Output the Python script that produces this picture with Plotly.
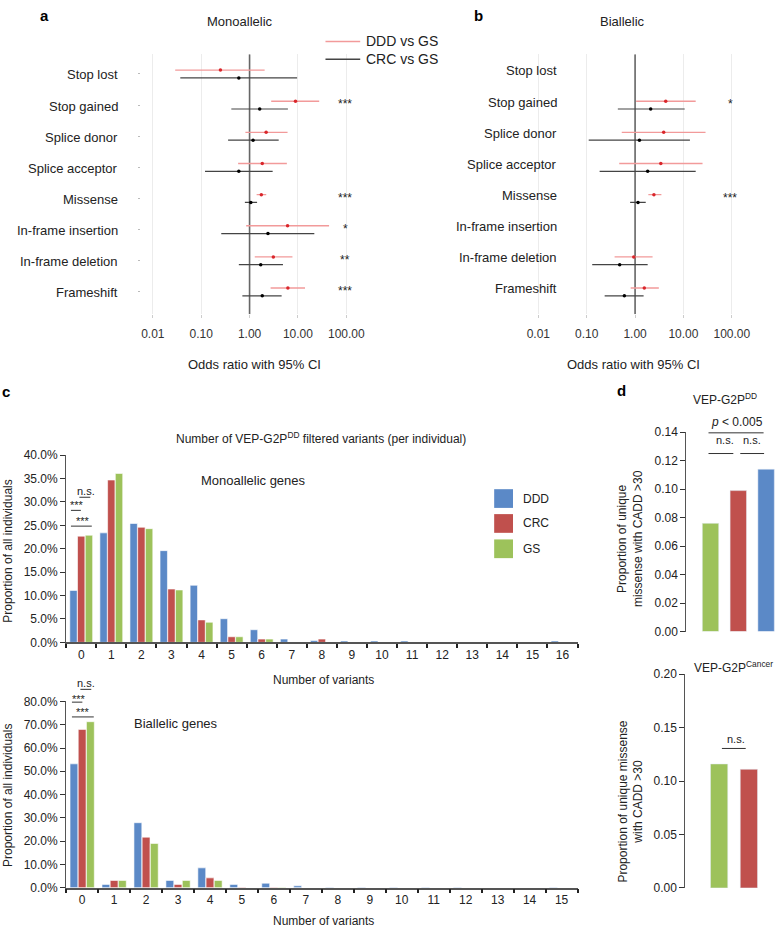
import plotly.graph_objects as go

# ---------------- DATA ----------------
categories = ["Stop lost", "Stop gained", "Splice donor", "Splice acceptor",
              "Missense", "In-frame insertion", "In-frame deletion", "Frameshift"]

# Panel a: Monoallelic odds ratios (95% CI)
mono_ddd_or = [0.25, 8.9, 2.2, 1.83, 1.75, 6.1, 3.1, 6.2]
mono_ddd_lo = [0.029, 2.8, 0.82, 0.58, 1.40, 0.85, 1.28, 2.72]
mono_ddd_hi = [2.05, 27.5, 6.1, 5.9, 2.21, 44.0, 7.7, 14.0]
mono_crc_or = [0.60, 1.62, 1.18, 0.60, 1.06, 2.4, 1.7, 1.83]
mono_crc_lo = [0.037, 0.42, 0.36, 0.12, 0.80, 0.26, 0.60, 0.71]
mono_crc_hi = [9.6, 6.2, 4.0, 3.0, 1.43, 21.8, 4.9, 4.6]
mono_sig = ["", "***", "", "", "***", "*", "**", "***"]

# Panel b: Biallelic odds ratios (95% CI)
bi_ddd_or = [None, 4.3, 3.9, 3.4, 2.45, None, 0.94, 1.55]
bi_ddd_lo = [None, 1.05, 0.53, 0.47, 1.88, None, 0.377, 0.81]
bi_ddd_hi = [None, 17.9, 28.6, 24.8, 3.5, None, 2.3, 3.1]
bi_crc_or = [None, 2.1, 1.23, 1.82, 1.15, None, 0.48, 0.60]
bi_crc_lo = [None, 0.44, 0.11, 0.185, 0.79, None, 0.13, 0.235]
bi_crc_hi = [None, 10.6, 13.6, 17.9, 1.66, None, 1.82, 1.5]
bi_sig = ["", "*", "", "", "***", "", "", ""]

or_ticks = [0.01, 0.1, 1, 10, 100]
or_tick_text = ["0.01", "0.10", "1.00", "10.00", "100.00"]
forest_series = ["DDD vs GS", "CRC vs GS"]

# Panel c: proportion of individuals (%) by number of variants
mono_counts = [str(i) for i in range(17)]
mono_ddd = [11.1, 23.4, 25.4, 19.6, 12.2, 5.05, 2.7, 0.7, 0.4, 0.3, 0.3, 0.3, 0, 0, 0, 0, 0.3]
mono_crc = [22.7, 34.7, 24.6, 11.4, 4.8, 1.2, 0.7, 0, 0.7, 0, 0, 0, 0, 0, 0, 0, 0]
mono_gs = [22.9, 36.1, 24.3, 11.2, 4.3, 1.2, 0.7, 0, 0, 0, 0, 0, 0, 0, 0, 0, 0]

bi_counts = [str(i) for i in range(16)]
bi_ddd = [53.2, 1.4, 27.9, 3.1, 8.5, 1.4, 1.9, 0.8, 0.2, 0.2, 0.2, 0.2, 0.2, 0, 0, 0.2]
bi_crc = [68.0, 3.1, 21.7, 1.4, 4.2, 0.2, 0.2, 0, 0, 0, 0, 0, 0, 0, 0, 0]
bi_gs = [71.3, 3.1, 19.0, 3.1, 3.1, 0, 0.2, 0, 0, 0, 0, 0, 0, 0, 0, 0]

# Panel d: proportion of unique missense with CADD > 30
d_top_groups = ["GS", "CRC", "DDD"]
d_top_vals = [0.076, 0.099, 0.114]
d_bot_groups = ["GS", "CRC"]
d_bot_vals = [0.116, 0.111]

# ---------------- STYLE ----------------
W, H = 781, 937
FONT = "Liberation Sans, Arial, Helvetica, sans-serif"
C_BLUE, C_RED, C_GREEN = "#5B89C7", "#C0504D", "#9DC25B"
GROUP_COLORS = {"DDD": C_BLUE, "CRC": C_RED, "GS": C_GREEN}
FOREST_RED_LINE, FOREST_RED_PT = "#F29A9A", "#D9262B"
FOREST_BLK_LINE, FOREST_BLK_PT = "#444444", "#000000"


def fx(p):
    return p / W


def fy(p):
    return 1 - p / H


fig = go.Figure()


def segments(lo, hi, ys):
    xs, yy = [], []
    for l, h, y in zip(lo, hi, ys):
        if l is None:
            continue
        xs += [l, h, None]
        yy += [y, y, None]
    return xs, yy


def points(vals, ys):
    xs, yy = [], []
    for v, y in zip(vals, ys):
        if v is None:
            continue
        xs.append(v)
        yy.append(y)
    return xs, yy


row_pos = list(range(len(categories)))
red_y = [r - 0.125 for r in row_pos]
blk_y = [r + 0.125 for r in row_pos]
Y_TOP, Y_BOT = -0.633, 7.72

for ax, (dor, dlo, dhi, cor, clo, chi) in [
    ("", (mono_ddd_or, mono_ddd_lo, mono_ddd_hi, mono_crc_or, mono_crc_lo, mono_crc_hi)),
    ("2", (bi_ddd_or, bi_ddd_lo, bi_ddd_hi, bi_crc_or, bi_crc_lo, bi_crc_hi)),
]:
    xa, ya = "x" + ax, "y" + ax
    # reference line at OR = 1
    fig.add_trace(go.Scatter(x=[1, 1], y=[Y_TOP, Y_BOT], mode="lines",
                             line=dict(color="#666666", width=1.6),
                             xaxis=xa, yaxis=ya, showlegend=False, hoverinfo="skip"))
    sx, sy = segments(dlo, dhi, red_y)
    fig.add_trace(go.Scatter(x=sx, y=sy, mode="lines", name=forest_series[0],
                             line=dict(color=FOREST_RED_LINE, width=1.4),
                             xaxis=xa, yaxis=ya, showlegend=False))
    sx, sy = segments(clo, chi, blk_y)
    fig.add_trace(go.Scatter(x=sx, y=sy, mode="lines", name=forest_series[1],
                             line=dict(color=FOREST_BLK_LINE, width=1.2),
                             xaxis=xa, yaxis=ya, showlegend=False))
    px_, py_ = points(dor, red_y)
    fig.add_trace(go.Scatter(x=px_, y=py_, mode="markers", name=forest_series[0],
                             marker=dict(color=FOREST_RED_PT, size=3.5),
                             xaxis=xa, yaxis=ya, showlegend=False))
    px_, py_ = points(cor, blk_y)
    fig.add_trace(go.Scatter(x=px_, y=py_, mode="markers", name=forest_series[1],
                             marker=dict(color=FOREST_BLK_PT, size=3.5),
                             xaxis=xa, yaxis=ya, showlegend=False))

# Panel c bars
for name, vals in [("DDD", mono_ddd), ("CRC", mono_crc), ("GS", mono_gs)]:
    fig.add_trace(go.Bar(x=mono_counts, y=vals, name=name, xaxis="x3", yaxis="y3",
                         marker=dict(color=GROUP_COLORS[name], line=dict(color="white", width=0.6)),
                         showlegend=False))
for name, vals in [("DDD", bi_ddd), ("CRC", bi_crc), ("GS", bi_gs)]:
    fig.add_trace(go.Bar(x=bi_counts, y=vals, name=name, xaxis="x4", yaxis="y4",
                         marker=dict(color=GROUP_COLORS[name], line=dict(color="white", width=0.6)),
                         showlegend=False))

# Panel d bars
fig.add_trace(go.Bar(x=list(range(len(d_top_groups))), y=d_top_vals, width=0.59,
                     marker=dict(color=[GROUP_COLORS[g] for g in d_top_groups]),
                     xaxis="x5", yaxis="y5", showlegend=False,
                     hovertext=d_top_groups))
fig.add_trace(go.Bar(x=list(range(len(d_bot_groups))), y=d_bot_vals, width=0.58,
                     marker=dict(color=[GROUP_COLORS[g] for g in d_bot_groups]),
                     xaxis="x6", yaxis="y6", showlegend=False,
                     hovertext=d_bot_groups))


def log_range(left_px, right_px, one_px, dec_px=48.75):
    return [(left_px - one_px) / dec_px, (right_px - one_px) / dec_px]


forest_x = dict(type="log", tickvals=or_ticks, ticktext=or_tick_text,
                showgrid=True, gridcolor="#ececec", gridwidth=1, showline=False,
                zeroline=False, ticks="outside", ticklen=3, tickcolor="#cccccc",
                tickfont=dict(size=12, color="#333"), ticklabelstandoff=5)
forest_y = dict(range=[Y_BOT, Y_TOP], showgrid=False, zeroline=False, showline=False,
                showticklabels=False, tickvals=row_pos)

ann = []
shapes = []


def text(x, y, s, size=12, xanchor="center", bold=False, angle=0, color="#222", **kw):
    d = dict(x=fx(x), y=fy(y), xref="paper", yref="paper", text=("<b>%s</b>" % s) if bold else s,
             showarrow=False, xanchor=xanchor, yanchor="middle", textangle=angle,
             font=dict(size=size, color=color, family=FONT))
    d.update(kw)
    ann.append(d)


def hline(x0, x1, y, color="#333", width=1):
    shapes.append(dict(type="line", xref="paper", yref="paper", x0=fx(x0), x1=fx(x1),
                       y0=fy(y), y1=fy(y), line=dict(color=color, width=width)))


# Row labels & significance for forest plots
for i, cat in enumerate(categories):
    ann.append(dict(x=fx(121), y=row_pos[i], xref="paper", yref="y", text=cat, showarrow=False,
                    xanchor="right", yanchor="middle", yshift=-1,
                    font=dict(size=13, color="#222", family=FONT)))
    ann.append(dict(x=fx(563), y=row_pos[i], xref="paper", yref="y2", text=cat, showarrow=False,
                    xanchor="right", yanchor="middle", yshift=3,
                    font=dict(size=13, color="#222", family=FONT)))
    if mono_sig[i]:
        ann.append(dict(x=fx(348), y=red_y[i], xref="paper", yref="y", text=mono_sig[i],
                        showarrow=False, xanchor="center", yanchor="middle", yshift=-3,
                        font=dict(size=12, color="#222", family=FONT)))
    if bi_sig[i]:
        ann.append(dict(x=fx(736), y=red_y[i], xref="paper", yref="y2", text=bi_sig[i],
                        showarrow=False, xanchor="center", yanchor="middle", yshift=-3,
                        font=dict(size=12, color="#222", family=FONT)))

# Legend for panels a/b (line samples)
for name, col, yc in [(forest_series[0], FOREST_RED_LINE, 35), (forest_series[1], FOREST_BLK_LINE, 53)]:
    hline(328, 363, yc, color=col, width=1.6)
    text(367, yc, name, size=14, xanchor="left")

# Panel titles and letters
text(45, 9, "a", size=15, bold=True, color="#000")
text(482, 9, "b", size=15, bold=True, color="#000")
text(6, 390, "c", size=15, bold=True, color="#000")
text(626, 389, "d", size=15, bold=True, color="#000")
text(242, 15, "Monoallelic", size=13)
text(627, 15, "Biallelic", size=13)
text(256, 363, "Odds ratio with 95% CI", size=13)
text(638, 363, "Odds ratio with 95% CI", size=13)

# Panel c texts
text(323, 438, "Number of VEP-G2P<sup>DD</sup> filtered variants (per individual)", size=12)
text(255, 481, "Monoallelic genes", size=13)
text(177, 727, "Biallelic genes", size=13)
text(326, 683, "Number of variants", size=12)
text(326, 928, "Number of variants", size=12)
text(8, 552, "Proportion of all individuals", size=12, angle=-90)
text(8, 800, "Proportion of all individuals", size=12, angle=-90)

# Panel c legend (colour squares)
for name, yc in [("DDD", 499), ("CRC", 524.3), ("GS", 550)]:
    shapes.append(dict(type="rect", xref="paper", yref="paper", x0=fx(498), x1=fx(517),
                       y0=fy(yc + 9.5), y1=fy(yc - 9.5), fillcolor=GROUP_COLORS[name],
                       line=dict(width=0)))
    text(525.5, yc, name, size=12, xanchor="left")

# Panel c significance brackets
text(87, 491, "n.s.", size=11)
hline(80, 91, 497.7)
text(78, 506, "***", size=11)
hline(71.5, 81.5, 511)
text(84, 522, "***", size=11)
hline(71.5, 92.5, 527)

text(87, 686, "n.s.", size=11)
hline(81, 92, 692.7)
text(79.5, 702, "***", size=11)
hline(72.5, 83, 705.7)
text(84, 716, "***", size=11)
hline(72.5, 94.5, 720.7)

# Panel d texts
text(731, 398, "VEP-G2P<sup>DD</sup>", size=12)
text(743, 421.5, "<i>p</i> < 0.005", size=12)
hline(714, 769.5, 432.3)
text(730.5, 439.5, "n.s.", size=11)
text(758, 439.5, "n.s.", size=11)
hline(714, 739, 453.3)
hline(746, 770, 453.3)
text(635, 540, "Proportion of unique<br>missense with CADD >30", size=12, angle=-90)

text(739, 670, "VEP-G2P<sup>Cancer</sup>", size=12)
text(741.5, 743.5, "n.s.", size=11)
hline(727.5, 751.5, 752.7)
text(635.5, 807, "Proportion of unique missense<br>with CADD >30", size=12, angle=-90)

bar_x = dict(type="category", showline=True, linecolor="#555", linewidth=1.5,
             ticks="outside", tickson="boundaries", ticklen=4, tickwidth=1.5, tickcolor="#222",
             tickfont=dict(size=12, color="#222"), showgrid=False, zeroline=False)
bar_y = dict(showline=True, linecolor="#555", linewidth=1.2, ticks="outside", ticklen=5,
             tickcolor="#333", tickformat=".1f", ticksuffix="%", showgrid=False, zeroline=False,
             tickfont=dict(size=12, color="#222"))
d_x = dict(showline=False, showticklabels=False, ticks="", showgrid=False, zeroline=False)
d_y = dict(showline=True, linecolor="#555", linewidth=1.2, ticks="outside", ticklen=5,
           tickcolor="#333", tickformat=".2f", showgrid=False, zeroline=False,
           tickfont=dict(size=12, color="#222"))

fig.update_layout(
    width=W, height=H, margin=dict(l=0, r=0, t=0, b=0),
    paper_bgcolor="white", plot_bgcolor="white",
    font=dict(family=FONT, size=12, color="#222"),
    barmode="group", bargap=0.23, bargroupgap=0.04, showlegend=False,
    xaxis=dict(forest_x, domain=[fx(142), fx(362)], range=log_range(142, 362, 251.5), anchor="y"),
    yaxis=dict(forest_y, domain=[fy(312), fy(48)], anchor="x",
               ticks="outside", ticklen=2, tickcolor="#bbbbbb"),
    xaxis2=dict(forest_x, domain=[fx(530), fx(760)], range=log_range(530, 760, 640), anchor="y2"),
    yaxis2=dict(forest_y, domain=[fy(312), fy(48)], anchor="x2"),
    xaxis3=dict(bar_x, domain=[fx(66.7), fx(582)], anchor="y3"),
    yaxis3=dict(bar_y, domain=[fy(645), fy(455)], range=[0, 40], dtick=5, anchor="x3"),
    xaxis4=dict(bar_x, domain=[fx(66.7), fx(582)], anchor="y4"),
    yaxis4=dict(bar_y, domain=[fy(894), fy(705)], range=[0, 80], dtick=10, anchor="x4"),
    xaxis5=dict(d_x, domain=[fx(691.7), 1], range=[-0.868, 2.32], anchor="y5"),
    yaxis5=dict(d_y, domain=[fy(634), fy(431.7)], range=[0, 0.14], dtick=0.02, anchor="x5"),
    xaxis6=dict(d_x, domain=[fx(690.7), 1], range=[-1.133, 1.877], anchor="y6"),
    yaxis6=dict(d_y, domain=[fy(894.3), fy(677.3)], range=[0, 0.20], dtick=0.05, anchor="x6"),
    annotations=ann, shapes=shapes,
)

fig.write_html("out.html", config={"displayModeBar": False},
               post_script="document.body.style.margin='0';document.body.style.overflow='hidden';")
